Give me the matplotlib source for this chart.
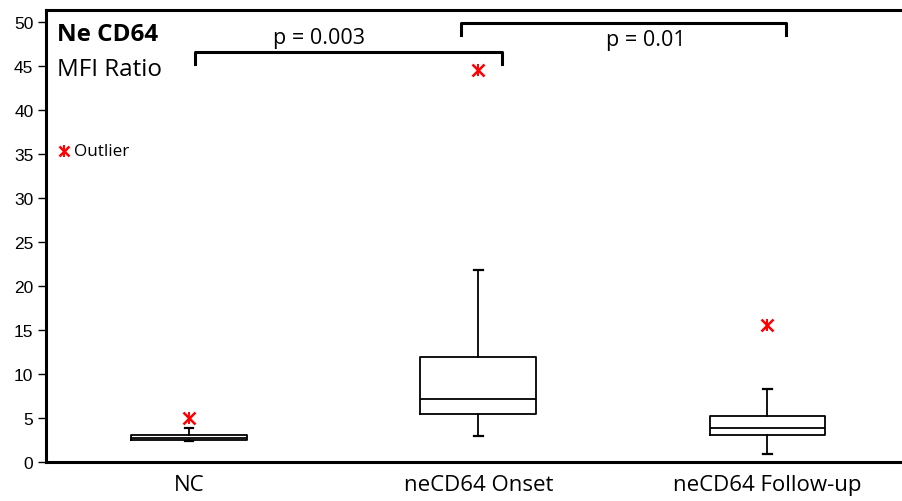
import matplotlib
matplotlib.use("Agg")
import matplotlib.pyplot as plt

categories = ["NC", "neCD64 Onset", "neCD64 Follow-up"]
whislo = [2.35, 2.9, 0.9]
q1 = [2.45, 5.4, 3.1]
med = [2.75, 7.2, 3.85]
q3 = [3.05, 11.9, 5.2]
whishi = [3.9, 21.8, 8.3]
outliers = [[5.0], [44.5], [15.6]]
yticks = list(range(0, 51, 5))

fig = plt.figure(figsize=(9.03, 5.02), dpi=100)
W, H = 903, 502
left_px, right_px, top_px, bot_px = 46, 912, 11, 463
ax = fig.add_axes([left_px / W, 1 - bot_px / H, (right_px - left_px) / W, (bot_px - top_px) / H])

stats = []
for i, c in enumerate(categories):
    stats.append(dict(label=c, whislo=whislo[i], q1=q1[i], med=med[i], q3=q3[i],
                      whishi=whishi[i], fliers=[]))
ax.bxp(stats, positions=[1, 2, 3], widths=0.40, capwidths=0.03, showfliers=False,
       boxprops=dict(color="black", linewidth=1.3),
       medianprops=dict(color="black", linewidth=1.3),
       whiskerprops=dict(color="black", linewidth=1.3),
       capprops=dict(color="black", linewidth=1.6))

for i, o in enumerate(outliers):
    xs = [i + 1] * len(o)
    ax.plot(xs, o, linestyle="none", marker="x", color="red", markersize=8, mew=1.8)
    ax.plot(xs, o, linestyle="none", marker="|", color="red", markersize=9, mew=1.4)

# legend-like outlier marker
ax.plot([0.568], [35.3], marker="x", color="red", markersize=7.5, mew=1.8, linestyle="none")
ax.plot([0.568], [35.3], marker="|", color="red", markersize=8.5, mew=1.4, linestyle="none")
ax.text(0.603, 35.3, "Outlier", fontsize=12.3, va="center", ha="left", family="Open Sans")

ax.text(0.543, 48.6, "Ne CD64", fontsize=17.5, fontweight="bold", va="center", ha="left", family="Open Sans")
ax.text(0.543, 44.6, "MFI Ratio", fontsize=17.5, va="center", ha="left", family="Open Sans")

# significance brackets
ax.plot([1.02, 1.02, 2.083, 2.083], [45.2, 46.55, 46.55, 45.2], color="black", lw=2.2)
ax.text(1.45, 48.2, "p = 0.003", fontsize=15.5, ha="center", va="center", family="Open Sans")
ax.plot([1.94, 1.94, 3.065, 3.065], [48.5, 49.85, 49.85, 48.5], color="black", lw=2.2)
ax.text(2.58, 48.0, "p = 0.01", fontsize=15.5, ha="center", va="center", family="Open Sans")

ax.set_xlim(0.505, 3.5)
ax.set_ylim(0, 51.35)
ax.set_yticks(yticks)
ax.set_yticklabels([str(t) for t in yticks], fontsize=12.5, family="Liberation Sans")
ax.set_xticks([1, 2, 3])
ax.set_xticklabels(categories, fontsize=16, family="Open Sans")
ax.tick_params(axis="x", length=0, pad=9)
ax.tick_params(axis="y", length=6, width=1, direction="out", pad=3)
for s in ["left", "bottom", "top"]:
    ax.spines[s].set_linewidth(2.2)
ax.spines["right"].set_visible(False)

fig.savefig("out.png", dpi=100)
